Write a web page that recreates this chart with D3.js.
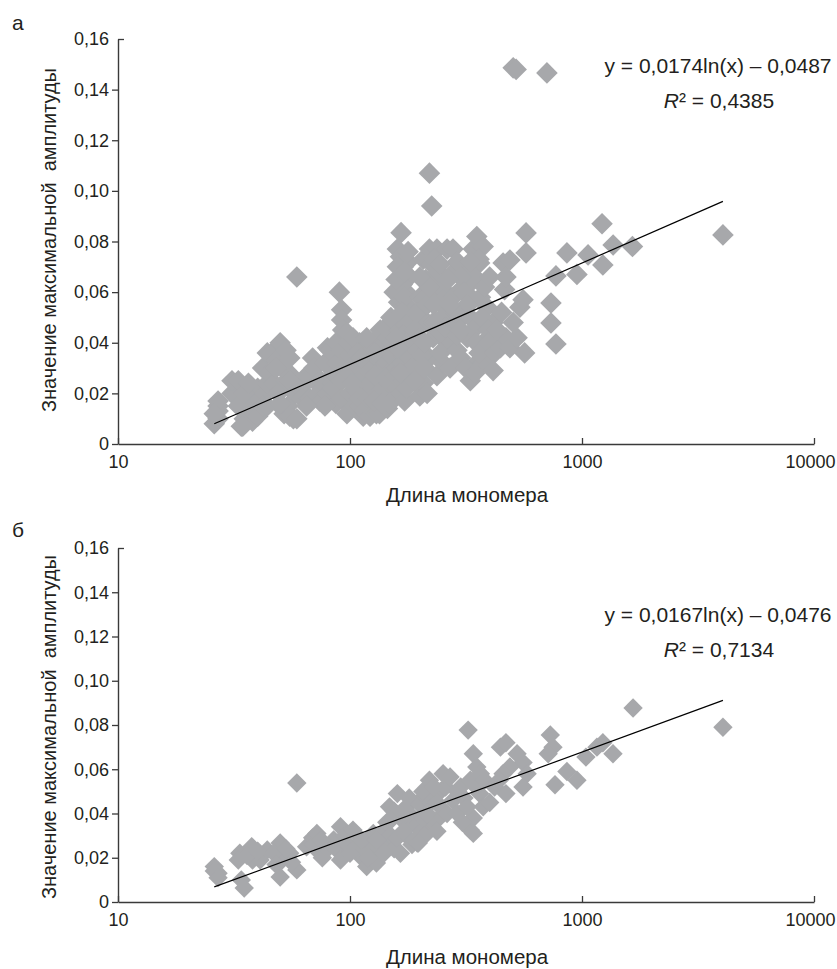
<!DOCTYPE html>
<html>
<head>
<meta charset="utf-8">
<script src="https://cdn.jsdelivr.net/npm/d3@7"></script>
<style>
  body { margin: 0; background: #fff; }
  svg { display: block; font-family: "Liberation Sans", Arial, sans-serif; }
</style>
</head>
<body>
<svg id="chart" width="837" height="969"></svg>
<script>
var xTicks = [10, 100, 1000, 10000];
var yTicks = [0, 0.02, 0.04, 0.06, 0.08, 0.10, 0.12, 0.14, 0.16];
var xTitle = 'Длина мономера';
var yTitle = 'Значение максимальной  амплитуды';

// panel а
var lenA = [
    26, 27, 27, 27, 27, 26,
    31, 31, 33, 34, 35, 36, 38, 37, 40, 39, 33, 41, 43, 44, 35, 36.5, 40, 34.5, 42, 42,
    44, 46, 48, 50, 53, 45, 47, 50, 52, 54, 57, 55, 49, 51, 56, 44, 48, 53, 58, 59, 55, 55, 55, 59, 50,
    61, 62, 65, 67, 67, 69, 70, 72, 73, 74, 76, 75, 78, 80, 80, 82, 84, 84, 85, 87, 87, 88, 90, 92, 92, 93, 97, 92, 92, 95, 92, 97, 78, 65,
    100, 100, 100, 105, 105, 105, 107, 110, 110, 110, 110, 114, 114, 115, 115, 118, 120, 120, 122, 125,
    125, 126, 130, 130, 130, 134, 135, 135, 135, 140, 140, 145, 145, 148, 150, 150, 155, 155, 160, 160,
    98, 103, 108, 112, 117, 122, 128, 132, 138, 143, 146, 152, 157, 142, 128, 118, 112, 102, 127, 137,
    166, 160, 165, 170, 165, 163, 162, 160, 163, 166, 170, 172, 170, 166, 172, 175, 178, 180, 185, 180, 175, 180, 178, 155, 150,
    168, 172, 168, 175, 170, 175, 168, 175, 182, 185, 158, 160, 172, 178, 165, 160, 158,
    195, 195, 200, 200, 206, 207, 207, 215, 220, 220, 220, 225, 225, 228, 228, 228, 237, 237, 237, 252, 252, 252, 262, 262, 262, 212, 240,
    190, 195, 200, 205, 210, 215, 220, 230, 235, 245, 250, 258, 245, 210, 200, 230, 245, 190, 215,
    270, 278, 278, 289, 289, 300, 300, 320, 320, 330, 330, 340, 340, 352, 352, 352, 362, 375, 375, 375, 390, 400, 414, 414, 310, 345, 365, 290,
    280, 290, 300, 310, 320, 330, 340, 350, 360, 370, 380, 395, 400, 300, 285, 270, 265, 315, 345, 360, 330, 395, 420,
    445, 457, 464, 470, 470, 489, 489, 505, 505, 520, 525, 540, 557, 566, 574, 574, 414, 430, 450,
    706, 735, 735, 772, 772, 861, 951, 1062, 1220, 1230, 1362, 1650, 4050
];
var ampA = [
    0.008, 0.010, 0.013, 0.015, 0.017, 0.012,
    0.020, 0.025, 0.025, 0.007, 0.010, 0.017, 0.009, 0.022, 0.022, 0.012, 0.015, 0.018, 0.020, 0.024, 0.020, 0.024, 0.011, 0.007, 0.015, 0.030,
    0.036, 0.036, 0.033, 0.040, 0.037, 0.028, 0.024, 0.015, 0.012, 0.015, 0.010, 0.022, 0.020, 0.030, 0.027, 0.015, 0.030, 0.025, 0.020, 0.066, 0.034, 0.025, 0.011, 0.010, 0.016,
    0.022, 0.018, 0.027, 0.026, 0.018, 0.034, 0.030, 0.024, 0.020, 0.017, 0.017, 0.025, 0.032, 0.020, 0.038, 0.037, 0.024, 0.022, 0.028, 0.040, 0.016, 0.032, 0.060, 0.053, 0.049, 0.045, 0.044, 0.037, 0.025, 0.030, 0.018, 0.012, 0.015, 0.015,
    0.020, 0.028, 0.035, 0.015, 0.025, 0.032, 0.021, 0.015, 0.018, 0.030, 0.040, 0.011, 0.037, 0.022, 0.013, 0.035, 0.027, 0.018, 0.011, 0.040,
    0.022, 0.030, 0.032, 0.016, 0.012, 0.012, 0.025, 0.038, 0.045, 0.020, 0.030, 0.042, 0.014, 0.016, 0.025, 0.035, 0.018, 0.045, 0.030, 0.022,
    0.040, 0.042, 0.036, 0.026, 0.030, 0.024, 0.027, 0.020, 0.034, 0.026, 0.036, 0.040, 0.027, 0.046, 0.036, 0.042, 0.034, 0.024, 0.017, 0.016,
    0.0835, 0.077, 0.074, 0.070, 0.066, 0.061, 0.056, 0.050, 0.045, 0.040, 0.035, 0.030, 0.025, 0.020, 0.017, 0.060, 0.050, 0.045, 0.038, 0.028, 0.055, 0.066, 0.072, 0.060, 0.050,
    0.063, 0.058, 0.052, 0.047, 0.043, 0.040, 0.032, 0.022, 0.034, 0.030, 0.065, 0.070, 0.068, 0.076, 0.028, 0.038, 0.042,
    0.037, 0.029, 0.058, 0.019, 0.057, 0.073, 0.024, 0.048, 0.107, 0.077, 0.034, 0.094, 0.071, 0.042, 0.048, 0.064, 0.077, 0.057, 0.027, 0.061, 0.057, 0.032, 0.077, 0.053, 0.040, 0.065, 0.068,
    0.045, 0.052, 0.042, 0.035, 0.030, 0.055, 0.062, 0.055, 0.048, 0.044, 0.050, 0.046, 0.036, 0.040, 0.066, 0.073, 0.071, 0.025, 0.020,
    0.030, 0.077, 0.058, 0.048, 0.037, 0.061, 0.034, 0.070, 0.042, 0.0635, 0.025, 0.077, 0.057, 0.082, 0.048, 0.032, 0.0715, 0.078, 0.040, 0.032, 0.054, 0.036, 0.048, 0.042, 0.052, 0.066, 0.058, 0.043,
    0.068, 0.072, 0.066, 0.060, 0.055, 0.050, 0.045, 0.040, 0.036, 0.050, 0.062, 0.045, 0.066, 0.045, 0.052, 0.055, 0.065, 0.030, 0.028, 0.073, 0.072, 0.040, 0.036,
    0.038, 0.0715, 0.061, 0.066, 0.042, 0.0727, 0.038, 0.048, 0.1486, 0.148, 0.042, 0.054, 0.057, 0.036, 0.0834, 0.0755, 0.029, 0.045, 0.052,
    0.1466, 0.0557, 0.0478, 0.0664, 0.0395, 0.0755, 0.067, 0.0747, 0.087, 0.0707, 0.0786, 0.078, 0.0826
];
var fitA = [0.0174, -0.0487];
var eqA = 'y = 0,0174ln(x) – 0,0487';
var r2A = '0,4385';

// panel б
var lenB = [
    26, 27, 26, 27,
    33.5, 34, 35, 37.7, 38, 41, 44, 36, 40, 33,
    50, 51, 50, 55, 59, 59, 47, 53, 56, 48,
    65, 69, 72, 76, 70, 80, 85, 88, 91, 91, 95, 98, 72, 75,
    103, 107, 110, 118, 115, 120, 125, 126, 130, 135, 139, 140, 144, 148, 150,
    155, 160, 160, 165, 165, 170, 175, 175, 185, 195, 190, 155, 180, 100, 112,
    170, 180, 200, 210, 225, 245, 258, 190, 205, 150, 130, 140, 120,
    206, 206, 210, 220, 222, 228, 237, 237, 252, 250, 262, 270, 278, 300, 323,
    330, 330, 340, 340, 352, 362, 375, 290, 310, 237, 215, 230, 197, 340,
    290, 350, 320, 365, 380, 305,
    445, 470, 525, 557, 489, 580, 557, 470, 457, 420, 400, 440,
    730, 750, 715, 861, 951, 765, 1040, 1230, 1360, 1160, 1660, 4050
];
var ampB = [
    0.016, 0.013, 0.014, 0.011,
    0.022, 0.010, 0.0063, 0.025, 0.019, 0.019, 0.0235, 0.021, 0.023, 0.019,
    0.0267, 0.019, 0.0113, 0.022, 0.0145, 0.0538, 0.022, 0.024, 0.018, 0.017,
    0.025, 0.029, 0.0235, 0.020, 0.026, 0.024, 0.028, 0.0235, 0.034, 0.019, 0.030, 0.026, 0.031, 0.028,
    0.0325, 0.025, 0.021, 0.016, 0.024, 0.028, 0.022, 0.031, 0.0176, 0.024, 0.0267, 0.032, 0.036, 0.043, 0.030,
    0.024, 0.029, 0.049, 0.022, 0.038, 0.037, 0.043, 0.030, 0.026, 0.0267, 0.035, 0.041, 0.047, 0.022, 0.028,
    0.032, 0.040, 0.044, 0.048, 0.035, 0.050, 0.052, 0.028, 0.032, 0.037, 0.028, 0.022, 0.020,
    0.050, 0.038, 0.030, 0.055, 0.045, 0.046, 0.037, 0.045, 0.058, 0.042, 0.040, 0.0565, 0.046, 0.052, 0.0777,
    0.055, 0.0325, 0.067, 0.038, 0.061, 0.049, 0.043, 0.040, 0.047, 0.032, 0.040, 0.052, 0.0267, 0.031,
    0.050, 0.052, 0.043, 0.058, 0.055, 0.036,
    0.070, 0.072, 0.067, 0.063, 0.061, 0.058, 0.052, 0.049, 0.058, 0.052, 0.045, 0.055,
    0.0755, 0.070, 0.067, 0.059, 0.055, 0.053, 0.0655, 0.072, 0.067, 0.070, 0.0877, 0.079
];
var fitB = [0.0167, -0.0476];
var eqB = 'y = 0,0167ln(x) – 0,0476';
var r2B = '0,7134';

var svg = d3.select('#chart');
var ink = '#231f20';
var markerColor = '#a7a8ab';

var locale = d3.formatLocale({ decimal: ',', thousands: '', grouping: [3], currency: ['', ''] });
var yFormat = locale.format('.2f');

var x = d3.scaleLog().domain([10, 10000]).range([118, 814]);

function drawPanel(opts) {
    var y = d3.scaleLinear().domain([0, 0.16]).range([opts.bottom, opts.top]);
    var g = svg.append('g');

    var points = opts.len.map(function (d, i) { return { len: d, amp: opts.amp[i] }; });

    var side = opts.half * Math.SQRT2;
    var diamond = d3.symbol().type(d3.symbolSquare).size(side * side);

    g.append('g').selectAll('path')
        .data(points)
        .enter().append('path')
        .attr('d', diamond)
        .attr('transform', function (d) {
            return 'translate(' + x(d.len) + ',' + y(d.amp) + ') rotate(45)';
        })
        .style('fill', markerColor);

    // trend line y = a*ln(x) + b over the data range
    var ext = d3.extent(opts.len);
    var line = d3.line()
        .x(function (d) { return x(d); })
        .y(function (d) { return y(opts.fit[0] * Math.log(d) + opts.fit[1]); });
    g.append('path')
        .attr('d', line(ext))
        .attr('fill', 'none')
        .attr('stroke', '#000')
        .attr('stroke-width', 1.2);

    var xAxis = g.append('g')
        .attr('transform', 'translate(0,' + opts.bottom + ')')
        .call(d3.axisBottom(x)
            .tickValues(xTicks)
            .tickFormat(d3.format('d'))
            .tickSize(-6)
            .tickSizeOuter(0)
            .tickPadding(11.5));

    // last label sits against the right edge
    xAxis.selectAll('.tick text')
        .filter(function (d) { return d === 10000; })
        .attr('dx', -4);

    var yAxis = g.append('g')
        .attr('transform', 'translate(118,0)')
        .call(d3.axisLeft(y)
            .tickValues(yTicks)
            .tickFormat(function (d) { return d === 0 ? '0' : yFormat(d); })
            .tickSize(6)
            .tickSizeOuter(0)
            .tickPadding(3));

    // top tick points into the plot
    yAxis.selectAll('.tick')
        .filter(function (d) { return d === 0.16; })
        .select('line')
        .attr('x2', 6);

    [xAxis, yAxis].forEach(function (a) {
        a.select('.domain').attr('stroke', '#3a3a3a').attr('stroke-width', 1.4);
        a.selectAll('.tick line').attr('stroke', '#3a3a3a').attr('stroke-width', 1.3);
        a.selectAll('.tick text')
            .attr('fill', ink)
            .style('font-family', '"Liberation Sans", Arial, sans-serif')
            .style('font-size', '18px');
    });

    g.append('text')
        .attr('x', 467)
        .attr('y', opts.xTitleY)
        .attr('text-anchor', 'middle')
        .attr('fill', ink)
        .style('font-size', '20.5px')
        .text(xTitle);

    g.append('text')
        .attr('transform', 'translate(56,' + opts.yTitleMid + ') rotate(-90)')
        .attr('text-anchor', 'middle')
        .attr('fill', ink)
        .style('font-size', '20px')
        .style('white-space', 'pre')
        .text(yTitle);

    g.append('text')
        .attr('x', 12)
        .attr('y', opts.letterY)
        .attr('fill', ink)
        .style('font-size', '21px')
        .text(opts.letter);

    g.append('text')
        .attr('x', 718)
        .attr('y', opts.eqY)
        .attr('text-anchor', 'middle')
        .attr('fill', ink)
        .style('font-size', '21px')
        .text(opts.eq);

    var r2 = g.append('text')
        .attr('x', 719)
        .attr('y', opts.eqY + 35)
        .attr('text-anchor', 'middle')
        .attr('fill', ink)
        .style('font-size', '21px');
    r2.append('tspan').style('font-style', 'italic').text('R');
    r2.append('tspan').text('² = ' + opts.r2);
}

drawPanel({
    len: lenA, amp: ampA, fit: fitA, eq: eqA, r2: r2A, letter: 'а',
    top: 39, bottom: 444, half: 10.8,
    xTitleY: 502, yTitleMid: 240, letterY: 30, eqY: 73
});

drawPanel({
    len: lenB, amp: ampB, fit: fitB, eq: eqB, r2: r2B, letter: 'б',
    top: 548, bottom: 902, half: 9.7,
    xTitleY: 964, yTitleMid: 727, letterY: 537, eqY: 622
});
</script>
</body>
</html>
